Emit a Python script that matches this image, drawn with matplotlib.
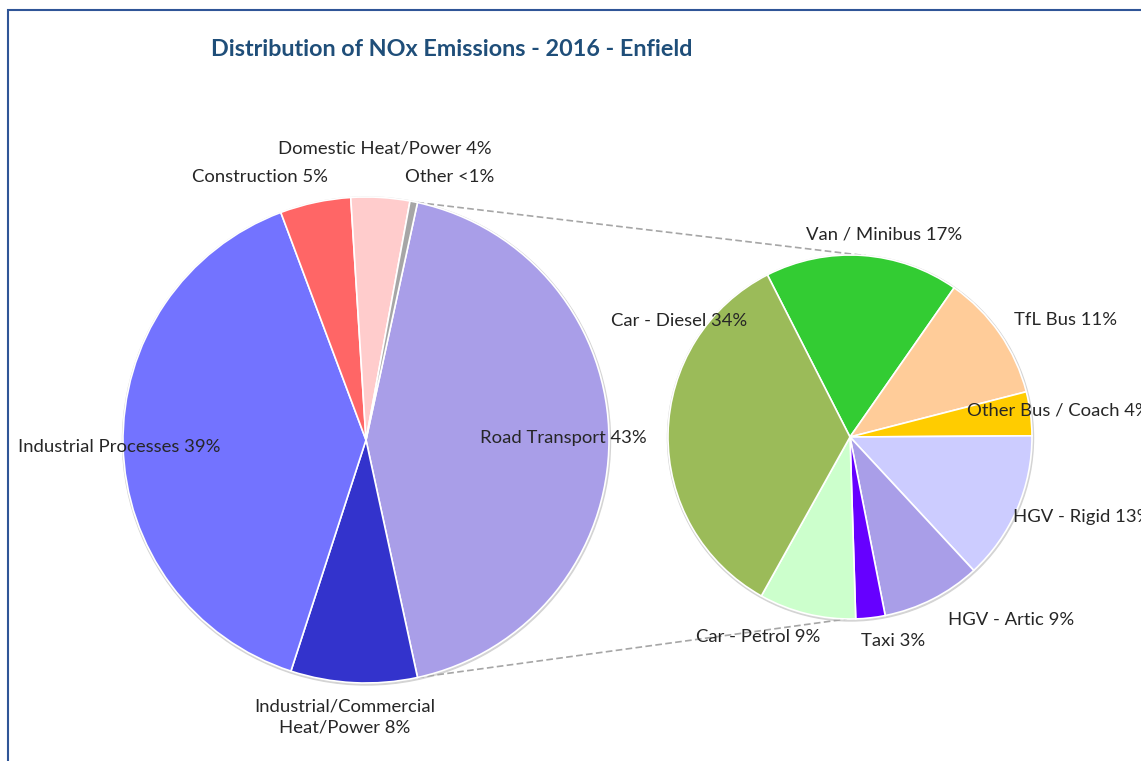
import numpy as np
import matplotlib
matplotlib.use("Agg")
import matplotlib.pyplot as plt
from matplotlib.patches import Circle, Rectangle

plt.rcParams["font.family"] = ["Lato", "DejaVu Sans"]

# main pie (clockwise from the split slice)
main_names = ["Road Transport", "Industrial/Commercial\nHeat/Power", "Industrial Processes",
              "Construction", "Domestic Heat/Power", "Other"]
main_values = [43.2, 8.4, 39.3, 4.7, 3.9, 0.5]
main_colors = ["#a99ee8", "#3333cc", "#7373ff", "#ff6666", "#ffcccc", "#a6a6a6"]

# road transport breakdown (clockwise from Van / Minibus)
sub_names = ["Van / Minibus", "TfL Bus", "Other Bus / Coach", "HGV - Rigid",
             "HGV - Artic", "Taxi", "Car - Petrol", "Car - Diesel"]
sub_values = [17.2, 11.3, 3.9, 13.2, 8.8, 2.6, 8.6, 34.4]
sub_colors = ["#33cc33", "#ffcc99", "#ffcc00", "#ccccff",
              "#a99ee8", "#6600ff", "#ccffcc", "#9bbb59"]

W, H = 1141, 761
fig = plt.figure(figsize=(W / 100, H / 100), dpi=100)
ax = fig.add_axes([0, 0, 1, 1])


def label(v, name):
    pct = "<1%" if v < 1 else f"{round(v)}%"
    return f"{name} {pct}"


main_c, main_r = (366, H - 440), 243
sub_c, sub_r = (850, H - 437), 182

# soft edge shadow
for c, r in [(main_c, main_r), (sub_c, sub_r)]:
    ax.add_patch(Circle((c[0] + 0.5, c[1] - 1), r + 1, color="#d4d4d4", zorder=0))

main_start = main_values[0] / sum(main_values) * 180
wedges, _ = ax.pie(main_values, colors=main_colors, startangle=main_start, counterclock=False,
                   center=main_c, radius=main_r, frame=True,
                   wedgeprops=dict(edgecolor="white", linewidth=1.2))
ax.pie(sub_values, colors=sub_colors, startangle=117, counterclock=False,
       center=sub_c, radius=sub_r, frame=True,
       wedgeprops=dict(edgecolor="white", linewidth=1.2))

# connector lines
for a_main, a_sub in [(main_start, 85), (-main_start, 269)]:
    p0 = (main_c[0] + main_r * np.cos(np.radians(a_main)), main_c[1] + main_r * np.sin(np.radians(a_main)))
    p1 = (sub_c[0] + sub_r * np.cos(np.radians(a_sub)), sub_c[1] + sub_r * np.sin(np.radians(a_sub)))
    ax.plot([p0[0], p1[0]], [p0[1], p1[1]], ls=(0, (4, 2)), color="#a6a6a6", lw=1.2, zorder=0.5)

txt = dict(fontsize=13.3, color="#262626", va="center")
main_pos = [(563, 438, "center"), (345, 717, "center"), (119, 447, "center"),
            (260, 177, "center"), (385, 148, "center"), (450, 177, "center")]
for (x, y, ha), v, n in zip(main_pos, main_values, main_names):
    ax.text(x, H - y, label(v, n), ha=ha, multialignment="center", linespacing=1.45, **txt)

sub_pos = [(884, 234, "center"), (1066, 320, "center"), (967, 410, "left"), (1013, 517, "left"),
           (1011, 620, "center"), (893, 641, "center"), (758, 637, "center"), (679, 321, "center")]
for (x, y, ha), v, n in zip(sub_pos, sub_values, sub_names):
    ax.text(x, H - y, label(v, n), ha=ha, **txt)

ax.text(211, H - 50, "Distribution of NOx Emissions - 2016 - Enfield", fontsize=16.8,
        fontweight="bold", color="#1f4e79", ha="left", va="center")

# chart border (only left and top visible)
ax.add_patch(Rectangle((8, -20), W + 40, H - 10 + 20, fill=False, edgecolor="#2f5597", lw=1.5, zorder=5))

ax.set_xlim(0, W)
ax.set_ylim(0, H)
ax.set_aspect("auto")
ax.axis("off")
fig.savefig("out.png", dpi=100)
